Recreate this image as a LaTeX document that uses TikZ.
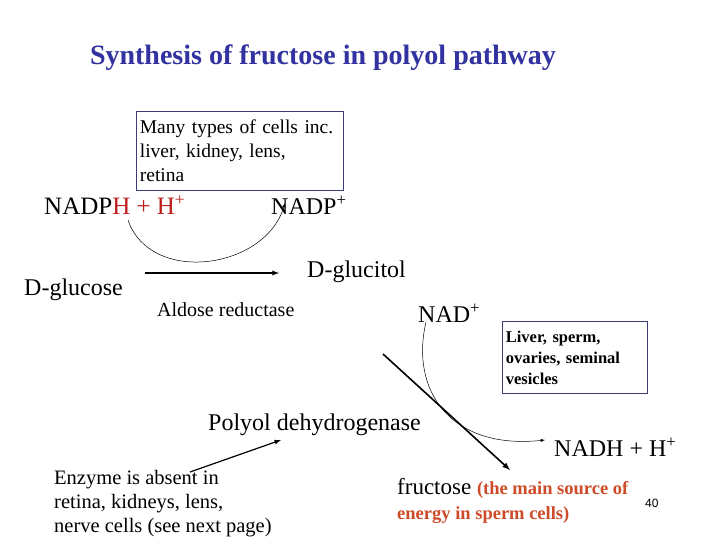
\documentclass[tikz,border=0pt]{standalone}
\usepackage{fontspec}
\setmainfont{Liberation Serif}
\newfontfamily\lsans{Liberation Sans}
\definecolor{ttl}{RGB}{50,50,160}
\definecolor{hred}{RGB}{190,30,30}
\definecolor{ored}{RGB}{205,75,40}
\definecolor{bx}{RGB}{60,60,120}
\begin{document}
\begin{tikzpicture}[x=1pt,y=-1pt,
  lbl/.style={inner sep=0pt,anchor=west},
  cbox/.style={draw=bx,line width=0.8pt,inner sep=3pt,anchor=north west,align=left},
  thin/.style={line width=0.5pt,-latex},
  thick/.style={line width=1.6pt,-latex}]
\useasboundingbox (0,0) rectangle (720,540);
\node[inner sep=0pt,text=ttl,font=\fontsize{28}{32}\selectfont\bfseries] (title) at (323,58) {Synthesis of fructose in polyol pathway};
\node[cbox,font=\fontsize{19.5}{24}\selectfont,minimum width=207pt,minimum height=79pt,text width=200pt] (box1) at (136,111) {Many types of cells inc.\\liver, kidney, lens,\\retina};
\node[lbl,font=\fontsize{25}{28}\selectfont] (nadph) at (44,205) {NADP\textcolor{hred}{H + H\textsuperscript{+}}};
\node[lbl,font=\fontsize{24}{28}\selectfont] (nadp) at (271,205) {NADP\textsuperscript{+}};
\node[lbl,font=\fontsize{24}{28}\selectfont] (glc) at (24,290) {D-glucose};
\node[lbl,font=\fontsize{24}{28}\selectfont] (gol) at (307,272) {D-glucitol};
\node[lbl,font=\fontsize{20}{24}\selectfont] (ar) at (157,310) {Aldose reductase};
\coordinate (a1) at (145,273);
\coordinate (a2) at (279,273);
\draw[thick,line width=1.3pt] (a1) -- (a2);
\coordinate (c1) at (128,220);
\coordinate (c2) at (285,203);
\draw[thin] (c1) .. controls (150,285) and (265,270) .. (c2);
\node[lbl,font=\fontsize{24}{28}\selectfont] (nad) at (418,313) {NAD\textsuperscript{+}};
\node[cbox,font=\fontsize{16.5}{21}\selectfont\bfseries,minimum width=145pt,minimum height=72pt,text width=138pt] (box2) at (502,321) {Liver, sperm,\\ovaries, seminal\\vesicles};
\coordinate (t1) at (383,354);
\coordinate (t2) at (510,470);
\draw[thick] (t1) -- (t2);
\coordinate (n1) at (426,322);
\coordinate (n2) at (545,440);
\draw[thin] (n1) .. controls (410,390) and (450,450) .. (n2);
\node[lbl,font=\fontsize{24}{28}\selectfont] (pd) at (208,425) {Polyol dehydrogenase};
\node[lbl,font=\fontsize{20.5}{24}\selectfont,align=left,anchor=north west] (enz) at (54,470) {Enzyme is absent in\\retina, kidneys, lens,\\nerve cells (see next page)};
\coordinate (e1) at (190,472);
\coordinate (e2) at (281,440);
\draw[thin,line width=1.2pt] (e1) -- (e2);
\node[lbl,font=\fontsize{24}{28}\selectfont] (nadh) at (554,447) {NADH + H\textsuperscript{+}};
\node[lbl,font=\fontsize{23}{28}\selectfont] (fru) at (397,488) {fructose {\fontsize{18.5}{22}\selectfont\bfseries\color{ored}(the main source of}};
\node[lbl,font=\fontsize{18.5}{22}\selectfont\bfseries,text=ored] (fru2) at (397,515) {energy in sperm cells)};
\node[lbl,font=\lsans\fontsize{12}{14}\selectfont] (pg) at (645,503) {40};
\end{tikzpicture}
\end{document}
